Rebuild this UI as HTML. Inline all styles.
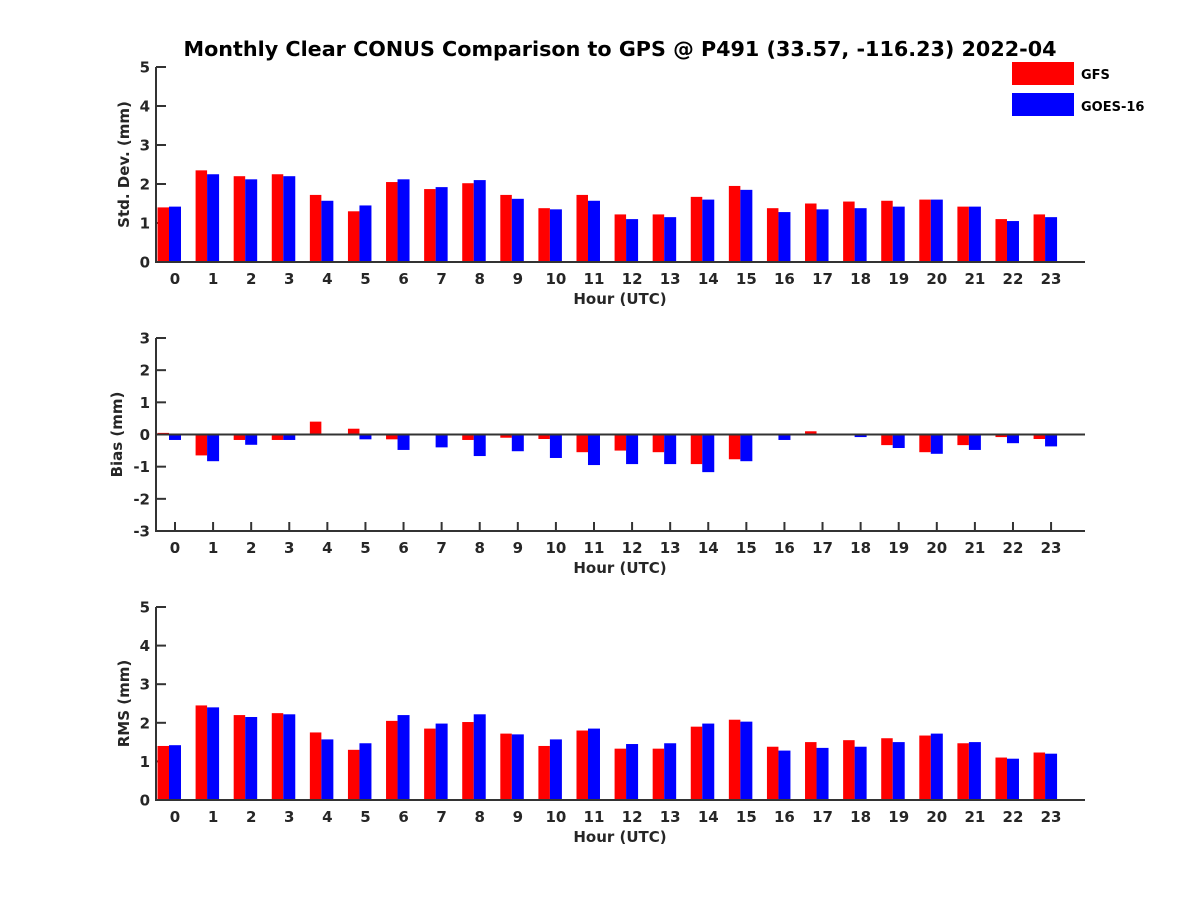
<!DOCTYPE html>
<html><head><meta charset="utf-8"><style>
body{margin:0;background:#fff}
svg{display:block;font-family:"DejaVu Sans","Liberation Sans",sans-serif;font-weight:bold}
</style></head><body>
<svg id="chart" width="1200" height="900" viewBox="0 0 1200 900">
<rect width="1200" height="900" fill="#fff"/>
<text x="620" y="56" text-anchor="middle" font-size="20.7" fill="#000">Monthly Clear CONUS Comparison to GPS @ P491 (33.57, -116.23) 2022-04</text>
<g>
<rect x="1012" y="62" width="62" height="23" fill="#ff0000"/>
<text x="1081" y="79" font-size="13">GFS</text>
<rect x="1012" y="93" width="62" height="23" fill="#0000ff"/>
<text x="1081" y="111" font-size="13">GOES-16</text>
</g>
</svg>
<script>
const hours = [0,1,2,3,4,5,6,7,8,9,10,11,12,13,14,15,16,17,18,19,20,21,22,23];
const stdGFS = [1.4,2.35,2.2,2.25,1.72,1.3,2.05,1.87,2.02,1.72,1.38,1.72,1.22,1.22,1.67,1.95,1.38,1.5,1.55,1.57,1.6,1.42,1.1,1.22];
const stdGOES = [1.42,2.25,2.12,2.2,1.57,1.45,2.12,1.92,2.1,1.62,1.35,1.57,1.1,1.15,1.6,1.85,1.28,1.35,1.38,1.42,1.6,1.42,1.05,1.15];
const biasGFS = [0.05,-0.65,-0.17,-0.17,0.4,0.18,-0.15,0,-0.17,-0.1,-0.14,-0.55,-0.5,-0.55,-0.92,-0.77,0,0.1,-0.03,-0.33,-0.55,-0.33,-0.08,-0.14];
const biasGOES = [-0.17,-0.83,-0.32,-0.17,0,-0.15,-0.48,-0.4,-0.67,-0.52,-0.73,-0.95,-0.92,-0.92,-1.17,-0.83,-0.17,-0.03,-0.08,-0.42,-0.6,-0.48,-0.27,-0.37];
const rmsGFS = [1.4,2.45,2.2,2.25,1.75,1.3,2.05,1.85,2.02,1.72,1.4,1.8,1.33,1.33,1.9,2.08,1.38,1.5,1.55,1.6,1.67,1.47,1.1,1.23];
const rmsGOES = [1.42,2.4,2.15,2.22,1.57,1.47,2.2,1.98,2.22,1.7,1.57,1.85,1.45,1.47,1.98,2.03,1.28,1.35,1.38,1.5,1.72,1.5,1.07,1.2];
const stdTicks = [0,1,2,3,4,5];
const biasTicks = [-3,-2,-1,0,1,2,3];
const rmsTicks = [0,1,2,3,4,5];

const NS = "http://www.w3.org/2000/svg";
const svg = document.getElementById('chart');
function mk(tag, attrs, parent){
  const e = document.createElementNS(NS, tag);
  for (const k in attrs) e.setAttribute(k, attrs[k]);
  (parent||svg).appendChild(e);
  return e;
}
const X0 = 156, X1 = 1085;
function xs(h){ return 175 + 38.09 * h; }

function panel(name, top, bottom, ymin, ymax, ticks, red, blue, ylabel, zeroLine){
  const g = mk('g', {});
  
  
  const ys = v => bottom - (v - ymin) / (ymax - ymin) * (bottom - top);
  const base = ys(Math.max(ymin, 0));
  hours.forEach(h => {
    const c = xs(h);
    const t = mk('line', {x1: c, x2: c, y1: bottom, y2: bottom - 9, stroke: '#333', 'stroke-width': 2}, g);
    
    
    const tl = mk('text', {x: c, y: bottom + 22, 'text-anchor': 'middle', 'font-size': 15, fill: '#262626'}, g);
    tl.textContent = h;
    
    
  });
  ticks.forEach(v => {
    const y = ys(v);
    const t = mk('line', {x1: X0, x2: X0 + 10, y1: y, y2: y, stroke: '#333', 'stroke-width': 2}, g);
    
    
    const tl = mk('text', {x: X0 - 6, y: y + 5.5, 'text-anchor': 'end', 'font-size': 15, fill: '#262626'}, g);
    tl.textContent = v;
    
    
  });
  hours.forEach((h, i) => {
    const c = xs(h);
    const yr = ys(red[i]), yb = ys(blue[i]);
    const r = mk('rect', {x: c - 17.5, y: Math.min(yr, base), width: 11.5, height: Math.abs(base - yr), fill: '#ff0000'}, g);
    
    
    const b = mk('rect', {x: c - 6, y: Math.min(yb, base), width: 12, height: Math.abs(base - yb), fill: '#0000ff'}, g);
    
    
  });
  if (zeroLine){
    const z = mk('line', {x1: X0, x2: X1, y1: ys(0), y2: ys(0), stroke: '#333', 'stroke-width': 2}, g);
    
    
  }
  const ax = mk('path', {d: `M${X0} ${top}V${bottom}H${X1}`, fill: 'none', stroke: '#333', 'stroke-width': 2}, g);
  
  
  const xl = mk('text', {x: 620, y: bottom + 42, 'text-anchor': 'middle', 'font-size': 15, fill: '#262626'}, g);
  xl.textContent = 'Hour (UTC)';
  
  
  const lx = zeroLine ? 122 : 129;
  const yl = mk('text', {x: lx, y: (top + bottom) / 2, 'text-anchor': 'middle', 'font-size': 15, fill: '#262626', transform: `rotate(-90 ${lx} ${(top + bottom) / 2})`}, g);
  yl.textContent = ylabel;
  
  
}
panel('std-dev', 67, 262, 0, 5, stdTicks, stdGFS, stdGOES, 'Std. Dev. (mm)', false);
panel('bias', 338, 531, -3, 3, biasTicks, biasGFS, biasGOES, 'Bias (mm)', true);
panel('rms', 607, 800, 0, 5, rmsTicks, rmsGFS, rmsGOES, 'RMS (mm)', false);
</script>
</body></html>
